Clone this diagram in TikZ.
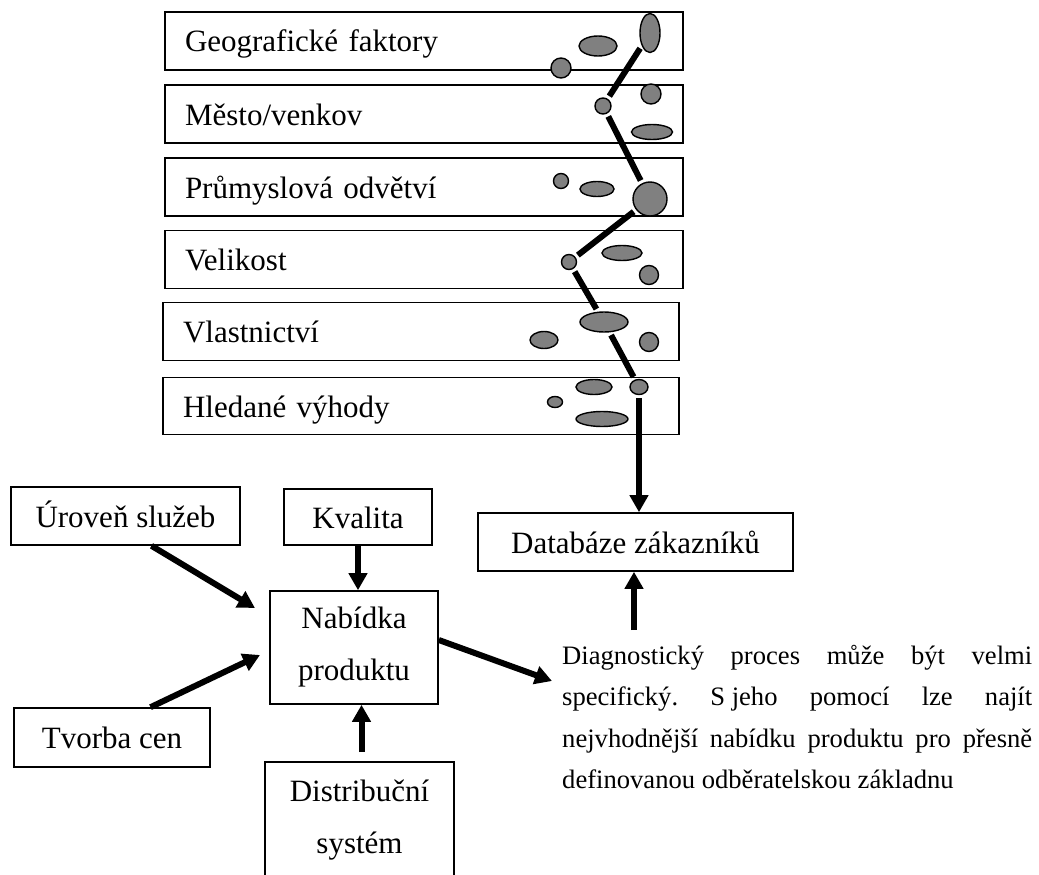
\documentclass[tikz,border=0pt]{standalone}
\usepackage{fontspec}
\setmainfont{Liberation Serif}
\usepackage{tikz}
\usetikzlibrary{arrows.meta,positioning,calc,shapes.geometric}
\usepackage{xcolor}
\definecolor{blobgray}{RGB}{128,128,128}

\begin{document}
\begin{tikzpicture}[
    x=1pt, y=-1pt,
    factor/.style={
      rectangle, draw=black, line width=1.6pt,
      minimum width=518pt, minimum height=58pt,
      text width=478pt, inner xsep=20pt, align=left,
      font=\fontsize{31}{52}\selectfont, text height=22pt, text depth=0pt
    },
    block/.style={
      rectangle, draw=black, line width=1.6pt, inner sep=0pt,
      align=center, font=\fontsize{31}{52}\selectfont
    },
    oneline/.style={
      text height=22pt, text depth=0pt
    },
    blob/.style={
      ellipse, draw=black, line width=1.4pt, fill=blobgray, inner sep=0pt
    },
    chain/.style={
      line width=6pt, shorten <=3pt, shorten >=3pt
    },
    push/.style={
      -{Triangle[length=17pt, width=18pt]}, line width=6pt
    }
  ]
  \useasboundingbox (0,0) rectangle (1039,875);

  % --- Segmentation criteria (top stack) ---
  \node[factor] (geo) at (424,41) {Geografické faktory};
  \node[factor, below=13.5pt of geo] (mesto) {Město/venkov};
  \node[factor, below=13.5pt of mesto] (odvetvi) {Průmyslová odvětví};
  \node[factor, below=12.5pt of odvetvi] (velikost) {Velikost};
  \node[factor, below=12.5pt of velikost, xshift=-3pt,
        minimum width=516pt, text width=476pt] (vlastnictvi) {Vlastnictví};
  \node[factor, below=15.5pt of vlastnictvi, minimum width=516pt,
        text width=476pt, minimum height=57pt] (vyhody) {Hledané výhody};

  % --- Spots inside the criteria ---
  \node[blob, minimum width=38pt, minimum height=20pt] (s1) at (598,46) {};
  \node[blob, minimum width=20pt, minimum height=20pt] (s2) at (561,68) {};
  \node[blob, minimum width=20pt, minimum height=20pt] (s3) at (651,94) {};
  \node[blob, minimum width=41pt, minimum height=15pt] (s4) at (652,132) {};
  \node[blob, minimum width=15pt, minimum height=15pt] (s5) at (561,181) {};
  \node[blob, minimum width=34pt, minimum height=15pt] (s6) at (597,189) {};
  \node[blob, minimum width=40pt, minimum height=15pt] (s7) at (622,253) {};
  \node[blob, minimum width=19pt, minimum height=19pt] (s8) at (649,275) {};
  \node[blob, minimum width=28pt, minimum height=17pt] (s9) at (544,340) {};
  \node[blob, minimum width=19pt, minimum height=19pt] (s10) at (649,342) {};
  \node[blob, minimum width=36pt, minimum height=15pt] (s11) at (594,387) {};
  \node[blob, minimum width=15pt, minimum height=11pt] (s12) at (555,402) {};
  \node[blob, minimum width=52pt, minimum height=15pt] (s13) at (602,419) {};

  % --- Path through the criteria ---
  \node[blob, minimum width=20pt, minimum height=39pt] (k1) at (650,33) {};
  \node[blob, minimum width=16pt, minimum height=16pt] (k2) at (603,106) {};
  \node[blob, minimum width=34pt, minimum height=34pt] (k3) at (650,199) {};
  \node[blob, minimum width=15pt, minimum height=15pt] (k4) at (569,262) {};
  \node[blob, minimum width=48pt, minimum height=20pt] (k5) at (604,322) {};
  \node[blob, minimum width=18pt, minimum height=15pt] (k6) at (639,387) {};

  \draw[chain] (k1) -- (k2);
  \draw[chain] (k2) -- (k3);
  \draw[chain] (k3) -- (k4);
  \draw[chain] (k4) -- (k5);
  \draw[chain] (k5) -- (k6);

  % --- Product offer and its inputs ---
  \node[block, oneline, minimum width=229pt, minimum height=58pt]
    (sluzby) at (125.5,516) {Úroveň služeb};
  \node[block, oneline, minimum width=148pt, minimum height=56pt]
    (kvalita) at (358,517) {Kvalita};
  \node[block, oneline, minimum width=315pt, minimum height=58pt]
    (databaze) at (635.5,542) {Databáze zákazníků};
  \node[block, minimum width=168pt, minimum height=113pt]
    (nabidka) at (354,647.5) {Nabídka\\produktu};
  \node[block, oneline, minimum width=196pt, minimum height=59pt]
    (ceny) at (112,737.5) {Tvorba cen};
  \node[block, minimum width=189pt, minimum height=116pt]
    (distribuce) at (359.5,820) {Distribuční\\systém};

  \node[anchor=north west, inner sep=0pt, text width=470pt, align=justify,
        font=\fontsize{26.6}{41.5}\selectfont\frenchspacing] (diag) at (562,645)
    {Diagnostický proces může být velmi\linebreak
     specifický. \mbox{S jeho} pomocí lze najít\linebreak
     nejvhodnější nabídku produktu pro přesně\linebreak
     definovanou odběratelskou základnu};

  \coordinate (nabUp) at (255,608);
  \coordinate (nabLow) at (260,655);
  \coordinate (diagIn) at (552,681);
  \coordinate (diagTop) at (634,630);

  \draw[push, shorten <=3pt] (k6) -- (k6 |- databaze.north);
  \draw[push] ([xshift=26pt]sluzby.south) -- (nabUp);
  \draw[push] (kvalita.south) -- (kvalita.south |- nabidka.north);
  \draw[push] ([xshift=38.5pt]ceny.north) -- (nabLow);
  \draw[push, shorten <=9pt] ([xshift=2pt]distribuce.north)
    -- ([xshift=2pt]distribuce.north |- nabidka.south);
  \draw[push] ([yshift=7.5pt]nabidka.east) -- (diagIn);
  \draw[push] (diagTop) -- (diagTop |- databaze.south);
\end{tikzpicture}
\end{document}
